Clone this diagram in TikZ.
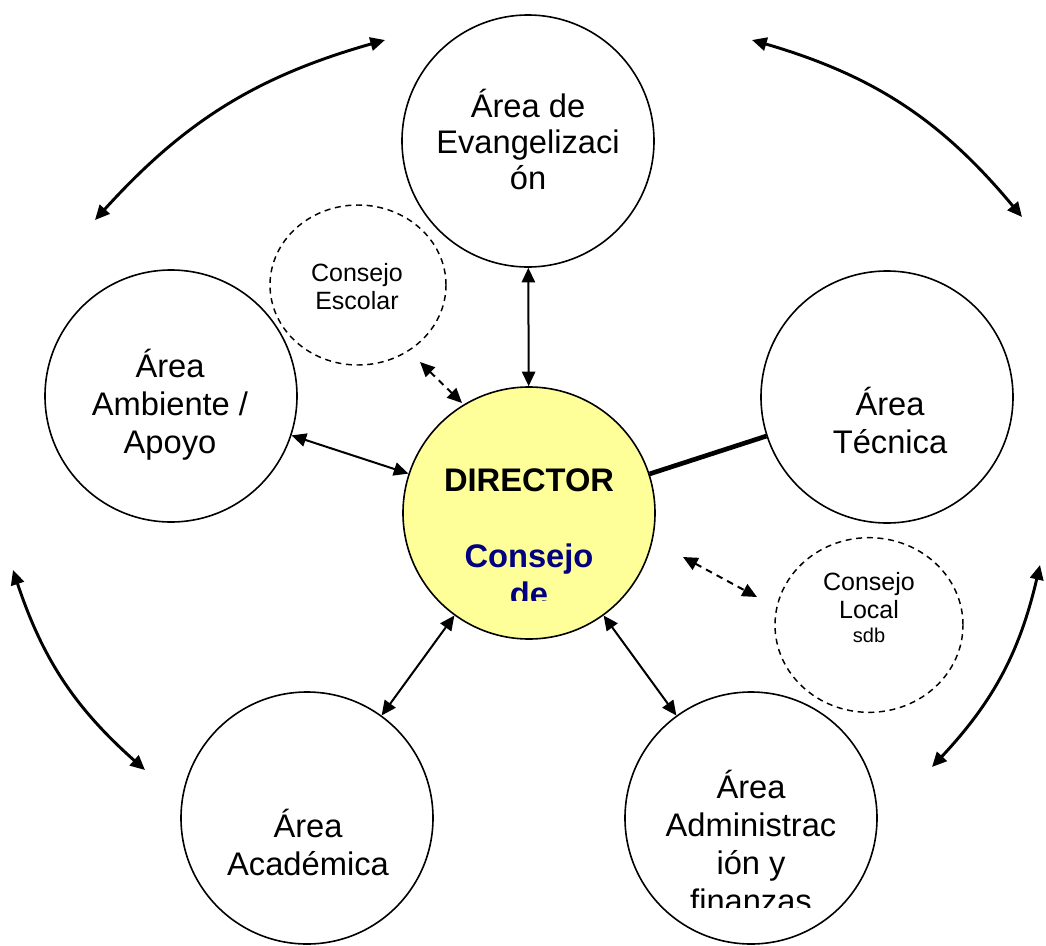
\documentclass[tikz,border=0pt]{standalone}
\usepackage{fontspec}
\setmainfont{Liberation Sans}
\usepackage{tikz}
\usetikzlibrary{arrows.meta, shapes.geometric}
\definecolor{dircolor}{RGB}{255,255,153}
\definecolor{consejocolor}{RGB}{0,0,128}

\begin{document}
\begin{tikzpicture}[x=0.75pt, y=-0.75pt,
    area/.style={draw, circle, line width=1.2pt, minimum size=189pt, inner sep=0pt},
    consejo/.style={draw, ellipse, line width=1.1pt, dash pattern=on 4.5pt off 3.5pt, inner sep=0pt},
    bigtext/.style={font=\fontsize{24.5pt}{28.5pt}\selectfont, align=center, anchor=base, inner sep=0pt},
    smalltext/.style={font=\fontsize{18.75pt}{21pt}\selectfont, align=center, anchor=base, inner sep=0pt},
    flecha/.style={{Triangle[length=11pt,width=10pt]}-{Triangle[length=11pt,width=10pt]}, line width=1.5pt},
    arco/.style={flecha, line width=2.2pt},
    punteada/.style={flecha, dash pattern=on 5pt off 4pt}]
    \useasboundingbox (0,0) rectangle (1046,946);

    % Areas
    \node[area] (evang) at (528,141) {};
    \node[area] (ambiente) at (171,396) {};
    \node[area] (tecnica) at (887,397) {};
    \node[area] (academica) at (307,818) {};
    \node[area] (admin) at (751,818) {};
    \node[area, fill=dircolor] (director) at (529,513) {};

    % Consejos (punteados)
    \node[consejo, minimum width=132pt, minimum height=120pt] (escolar) at (358,285) {};
    \node[consejo, minimum width=141pt, minimum height=131pt] (local) at (869,625) {};

    % Textos
    \node[bigtext, font=\fontsize{24.5pt}{27pt}\selectfont] (tevang) at (528,189) {Área de\\Evangelizaci\\ón};
    \node[bigtext] (tambiente) at (170,453) {Área\\Ambiente /\\Apoyo};
    \node[bigtext] (ttecnica) at (890,453) {Área\\Técnica};
    \node[bigtext] (tacademica) at (308,875) {Área\\Académica};
    \begin{scope}
        \clip (620,700) rectangle (880,907);
        \node[bigtext] (tadmin) at (751,912) {Área\\Administrac\\ión y\\finanzas};
    \end{scope}
    \begin{scope}
        \clip (400,400) rectangle (660,600);
        \node[bigtext, font=\fontsize{24.5pt}{28.5pt}\selectfont\bfseries] (tdirector) at (529,605)
            {DIRECTOR\\[28.5pt]\textcolor{consejocolor}{Consejo}\\\textcolor{consejocolor}{de}};
    \end{scope}
    \node[smalltext] (tescolar) at (357,309) {Consejo\\Escolar};
    \node[smalltext] (tlocal) at (869,642) {Consejo\\Local\\[-3pt]{\fontsize{15pt}{17pt}\selectfont sdb}};

    % Conexiones con el director
    \draw[flecha] (evang) -- (director);
    \draw[flecha] (ambiente) -- (director);
    \draw[flecha] (director) -- (academica);
    \draw[flecha] (director) -- (admin);
    \draw[line width=3.5pt] (director) -- (tecnica);

    % Flechas punteadas
    \coordinate (e1) at (420,362);
    \coordinate (e2) at (462,403);
    \draw[punteada] (e1) -- (e2);
    \coordinate (l1) at (683,557);
    \coordinate (l2) at (757,597);
    \draw[punteada] (l1) -- (l2);

    % Arcos exteriores
    \coordinate (arc1a) at (95,220);
    \coordinate (arc1b) at (385,40);
    \coordinate (arc2a) at (752,40);
    \coordinate (arc2b) at (1022,217);
    \coordinate (arc3a) at (1040,565);
    \coordinate (arc3b) at (932,767);
    \coordinate (arc4a) at (145,770);
    \coordinate (arc4b) at (13,570);
    \draw[arco] (arc1a) to[bend left=16] (arc1b);
    \draw[arco] (arc2a) to[bend left=17] (arc2b);
    \draw[arco] (arc3a) to[bend left=15] (arc3b);
    \draw[arco] (arc4a) to[bend left=15] (arc4b);
\end{tikzpicture}
\end{document}
